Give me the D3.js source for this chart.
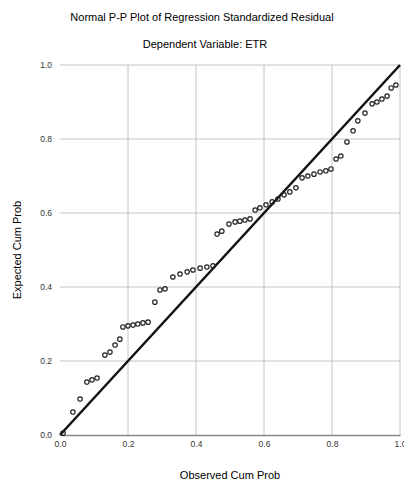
<!DOCTYPE html>
<html><head><meta charset="utf-8">
<script src="https://cdn.jsdelivr.net/npm/d3@7"></script>
<style>body{margin:0;background:#fff;} svg{display:block;}</style>
</head><body>
<svg id="c" width="404" height="485"></svg>
<script>
const titleText = "Normal P-P Plot of Regression Standardized Residual";
const subtitleText = "Dependent Variable: ETR";
const xLabel = "Observed Cum Prob";
const yLabel = "Expected Cum Prob";
const tickValues = [0, 0.2, 0.4, 0.6, 0.8, 1.0];
const observed = [0.009,0.038,0.059,0.079,0.094,0.109,0.132,0.147,0.162,0.176,0.185,0.200,0.215,0.229,0.244,0.259,0.279,0.294,0.309,0.332,0.353,0.374,0.391,0.412,0.432,0.450,0.462,0.476,0.497,0.515,0.529,0.544,0.559,0.574,0.588,0.606,0.624,0.641,0.659,0.676,0.694,0.712,0.729,0.747,0.765,0.782,0.797,0.812,0.826,0.844,0.862,0.876,0.897,0.918,0.932,0.947,0.962,0.974,0.988];
const expected = [0.005,0.062,0.097,0.143,0.149,0.154,0.216,0.224,0.243,0.259,0.292,0.295,0.297,0.300,0.303,0.305,0.359,0.392,0.395,0.427,0.435,0.441,0.446,0.451,0.454,0.457,0.543,0.551,0.570,0.576,0.578,0.581,0.584,0.608,0.614,0.622,0.630,0.638,0.649,0.657,0.668,0.695,0.700,0.705,0.711,0.714,0.719,0.746,0.754,0.792,0.822,0.849,0.870,0.895,0.900,0.908,0.916,0.938,0.946];

const svg = d3.select("#c");
const L = 60, R = 400, T = 65, B = 435;
const x = d3.scaleLinear().domain([0,1]).range([L,R]);
const y = d3.scaleLinear().domain([0,1]).range([B,T]);
const font = "Arial, 'Liberation Sans', sans-serif";

// gridlines
svg.append("g").selectAll("line.v").data(tickValues.slice(1)).enter().append("line")
  .attr("x1", d=>x(d)).attr("x2", d=>x(d)).attr("y1", T).attr("y2", B)
  .attr("stroke", "#c4c4c4").attr("stroke-width", 1);
svg.append("g").selectAll("line.h").data(tickValues.slice(1)).enter().append("line")
  .attr("x1", L).attr("x2", R).attr("y1", d=>y(d)).attr("y2", d=>y(d))
  .attr("stroke", "#c4c4c4").attr("stroke-width", 1);

// axes
const xAxis = d3.axisBottom(x).tickValues(tickValues).tickFormat(d3.format(".1f")).tickSize(0).tickPadding(6);
const gx = svg.append("g").attr("transform", `translate(0,${B})`).call(xAxis);
gx.select(".domain").attr("stroke", "#888").attr("stroke-width", 1.5);
gx.selectAll("text").attr("font-family", font).attr("font-size", 8.5).attr("fill", "#333");
const yAxis = d3.axisLeft(y).tickValues(tickValues).tickFormat(d3.format(".1f")).tickSize(0).tickPadding(8);
const gy = svg.append("g").attr("transform", `translate(${L},0)`).call(yAxis);
gy.select(".domain").remove();
gy.selectAll("text").attr("font-family", font).attr("font-size", 8.5).attr("fill", "#333");

// diagonal
svg.append("line").attr("x1", x(0)).attr("y1", y(0)).attr("x2", x(1)).attr("y2", y(1))
  .attr("stroke", "#111").attr("stroke-width", 2.5);

// points
svg.append("g").selectAll("circle").data(observed).enter().append("circle")
  .attr("cx", (d,i)=>x(d)).attr("cy", (d,i)=>y(expected[i])).attr("r", 2.2)
  .attr("fill", "none").attr("stroke", "#222").attr("stroke-width", 1.2);

// titles
svg.append("text").attr("x", 202).attr("y", 21).attr("text-anchor", "middle")
  .attr("font-family", font).attr("font-size", 11).attr("fill", "#000").text(titleText);
svg.append("text").attr("x", 205).attr("y", 48).attr("text-anchor", "middle")
  .attr("font-family", font).attr("font-size", 11).attr("fill", "#000").text(subtitleText);
svg.append("text").attr("x", 230).attr("y", 479).attr("text-anchor", "middle")
  .attr("font-family", font).attr("font-size", 11).attr("fill", "#000").text(xLabel);
svg.append("text").attr("transform", "translate(21,250) rotate(-90)").attr("text-anchor", "middle")
  .attr("font-family", font).attr("font-size", 11).attr("fill", "#000").text(yLabel);
</script>
</body></html>
